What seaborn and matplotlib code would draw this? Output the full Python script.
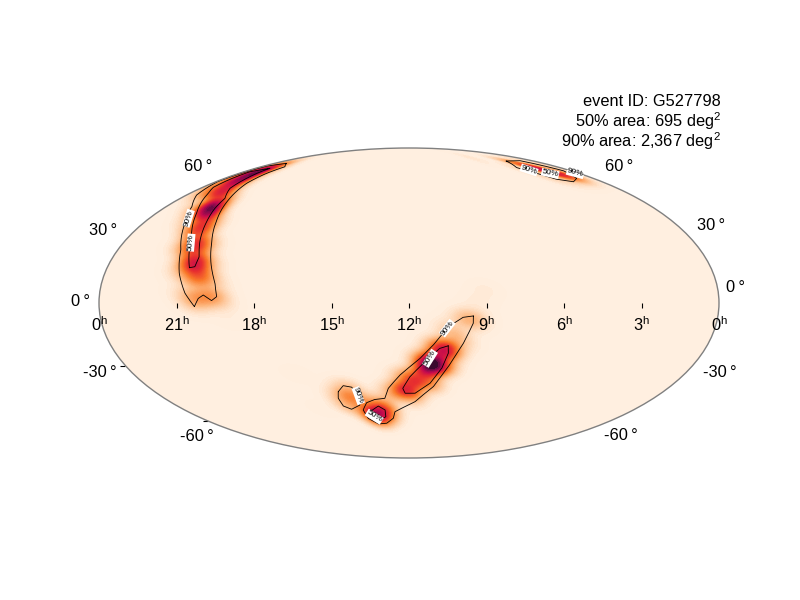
import numpy as np
import matplotlib
matplotlib.use("Agg")
import matplotlib.pyplot as plt
import seaborn as sns

# contours: right ascension in hours, declination in degrees
nw_90_ra = [20.31, 20.69, 21.06, 21.40, 22.11, 22.73, 23.46, 23.90, 23.85, 23.75, 22.93, 22.08, 22.06, 21.89, 21.36, 20.81, 20.28, 19.93, 19.57, 19.45, 19.64, 19.97, 20.16]
nw_90_dec = [-1.7, 4.6, 14.0, 25.3, 38.7, 47.5, 54.0, 61.9, 67.7, 72.4, 74.4, 71.9, 67.3, 60.9, 51.2, 40.4, 28.6, 18.8, 9.3, 3.0, 1.1, 3.8, 2.2]
nw_50_ra = [20.73, 21.05, 21.42, 22.08, 23.00, 23.38, 23.50, 23.58, 22.88, 22.83, 22.58, 22.30, 21.66, 21.49, 21.20, 20.85, 20.51, 20.52]
nw_50_dec = [16.7, 25.3, 33.5, 43.9, 55.0, 58.5, 63.4, 68.4, 70.8, 69.1, 64.1, 57.9, 52.1, 46.6, 39.5, 30.2, 22.0, 17.2]
south_90_ra = [9.50, 9.89, 10.46, 10.96, 11.54, 12.39, 12.96, 13.18, 13.68, 14.14, 14.45, 14.36, 13.90, 13.37, 12.91, 12.76, 11.70, 10.88, 10.33, 9.82, 9.49]
south_90_dec = [-6.1, -6.7, -11.2, -19.1, -26.4, -34.7, -41.6, -46.9, -47.5, -49.3, -53.4, -58.3, -61.7, -61.3, -58.3, -54.4, -48.8, -40.7, -30.5, -19.1, -9.6]
south_50_ra = [10.42, 10.75, 11.26, 11.96, 12.29, 12.19, 11.71, 11.05, 10.60, 10.39]
south_50_dec = [-20.3, -21.5, -27.2, -35.6, -41.6, -44.2, -44.2, -39.0, -31.3, -23.9]
foot_50_ra = [14.12, 13.59, 13.28, 13.31, 13.71, 14.05]
foot_50_dec = [-54.4, -51.2, -53.4, -57.3, -59.3, -57.7]
spot_90_ra = [15.34, 15.01, 14.64, 14.46, 14.52, 15.05, 15.40, 15.47]
spot_90_dec = [-43.4, -40.2, -41.0, -46.0, -50.6, -53.0, -51.2, -46.9]
ne_90_ra = [2.63, 1.16, 0.86, 0.54, 1.07, 1.78, 2.51, 2.97, 3.46]
ne_90_dec = [76.2, 76.5, 73.2, 69.1, 64.1, 61.9, 63.4, 67.3, 71.2]

# probability ridges with a rough relative weight
nw_ra = [20.29, 19.67, 20.34, 20.11, 20.59, 20.85, 21.20, 21.55, 21.78, 22.38, 22.78, 22.91, 23.09, 22.97]
nw_dec = [1.4, 3.8, 10.8, 13.2, 19.4, 27.7, 36.2, 43.5, 47.8, 55.1, 61.7, 66.2, 70.3, 73.2]
nw_wt = [0.3, 0.3, 0.5, 0.5, 0.8, 0.8, 0.9, 1.0, 1.4, 1.0, 1.1, 1.0, 0.7, 0.2]
south_ra = [9.62, 10.18, 10.54, 10.84, 11.03, 11.31, 11.73, 12.19, 12.67, 13.08, 13.58, 13.83]
south_dec = [-8.0, -15.1, -22.3, -26.2, -29.7, -33.2, -38.3, -41.4, -45.1, -50.6, -54.6, -55.7]
south_wt = [0.2, 0.3, 0.6, 0.8, 1.7, 1.1, 0.8, 0.5, 0.3, 0.2, 0.5, 0.5]
spot_ra = [14.87, 14.70, 15.05]
spot_dec = [-46.2, -43.5, -49.0]
spot_wt = [0.5, 0.1, 0.1]
ne_ra = [2.29, 2.07, 1.79, 1.29]
ne_dec = [73.9, 71.0, 68.2, 66.2]
ne_wt = [0.5, 0.9, 0.7, 0.9]
faint_ra = [5.16, 5.08, 16.62, 16.88, 9.05, 9.33, 19.24, 18.97]
faint_dec = [80.4, 77.0, -52.8, -34.2, 6.1, 0.5, -0.9, -8.0]
faint_wt = [0.05, 0.05, 0.03, 0.03, 0.05, 0.05, 0.06, 0.03]

edge_90_wt = 0.13
edge_50_wt = 0.4

colour_stops = ["#FFEFE0", "#FDB77F", "#F97A2A", "#E8302E", "#C60A4E", "#7A0A4B", "#1A0820"]
info_lines = ["event ID: G527798", "50% area: 695 deg$^2$", "90% area: 2,367 deg$^2$"]
ra_ticks = [21, 18, 15, 12, 9, 6, 3]

# text, ra, dec, rotation
contour_labels = [
    ("90%", 22.20, 41.3, 72), ("50%", 21.17, 28.9, 85),
    ("90%", 10.50, -11.9, 52), ("50%", 11.13, -26.4, 58),
    ("50%", 13.98, -57.3, -32), ("90%", 14.45, -45.5, -70),
    ("90%", 2.95, 69.6, -18), ("50%", 2.03, 67.3, -12), ("90%", 0.20, 67.5, -15),
]


def lon(ra):
    return np.radians(180 - np.asarray(ra) * 15)


def lat(dec):
    return np.radians(np.asarray(dec))


def closed(values):
    return list(values) + [values[0]]


sns.set_theme(style="white")
plt.rcParams['font.family'] = ['Liberation Sans', 'DejaVu Sans']
plt.rcParams['mathtext.default'] = 'regular'

fig = plt.figure(figsize=(8, 6), dpi=100)
ax = fig.add_axes([99 / 800, 142 / 600, 620 / 800, 310 / 600], projection='mollweide')
ax.set_facecolor(colour_stops[0])
ax.grid(False)
ax.set_xticklabels([])
ax.set_yticklabels([])
ax.spines['geo'].set_edgecolor('#808080')
ax.spines['geo'].set_linewidth(1)

cmap = sns.blend_palette(colour_stops, as_cmap=True)

edges_90 = [(nw_90_ra, nw_90_dec), (south_90_ra, south_90_dec), (spot_90_ra, spot_90_dec), (ne_90_ra, ne_90_dec)]
edges_50 = [(nw_50_ra, nw_50_dec), (south_50_ra, south_50_dec), (foot_50_ra, foot_50_dec)]

all_ra = nw_ra + south_ra + spot_ra + ne_ra + faint_ra
all_dec = nw_dec + south_dec + spot_dec + ne_dec + faint_dec
all_wt = nw_wt + south_wt + spot_wt + ne_wt + faint_wt
for ra, dec in edges_90:
    all_ra = all_ra + ra
    all_dec = all_dec + dec
    all_wt = all_wt + [edge_90_wt] * len(ra)
for ra, dec in edges_50:
    all_ra = all_ra + ra
    all_dec = all_dec + dec
    all_wt = all_wt + [edge_50_wt] * len(ra)

sns.kdeplot(x=lon(all_ra), y=lat(all_dec), weights=all_wt, fill=True, levels=80, thresh=0.002,
            cmap=cmap, bw_adjust=0.13, gridsize=400, ax=ax)

for ra, dec in edges_90 + edges_50:
    ax.plot(lon(closed(ra)), lat(closed(dec)), color='black', lw=0.6)

for text, ra, dec, rot in contour_labels:
    ax.text(lon(ra), lat(dec), text, fontsize=6, rotation=rot, ha='center', va='center',
            rotation_mode='anchor', clip_on=True, zorder=5, color='black',
            bbox=dict(boxstyle='square,pad=0.05', facecolor='white', edgecolor='none'))

# ra ticks and labels along the equator
ax.plot(lon(ra_ticks), np.zeros(len(ra_ticks)), ls='none', marker=3, ms=3.6, mew=0.8, color='black',
        clip_on=False)
for h in ra_ticks:
    ax.annotate(f"{h}$^{{h}}$", (lon(h), 0), xytext=(0, -12), textcoords='offset pixels',
                ha='center', va='top', fontsize=11.8, color='black', annotation_clip=False)
for edge in [-np.pi, np.pi]:
    ax.annotate("0$^{h}$", (edge, 0), xytext=(0, -12), textcoords='offset pixels',
                ha='center', va='top', fontsize=11.8, color='black', annotation_clip=False, zorder=6)

# dec labels: text, dec, edge side, pixel offset from the edge of the ellipse
dec_labels = [
    ("0\u2009°", 0, -1, -18.5, 2), ("30\u2009°", 30, -1, -22, 10), ("60\u2009°", 60, -1, -10, 18),
    ("-30\u2009°", -30, -1, -25.4, -7), ("-60\u2009°", -60, -1, -12, -15),
    ("0\u2009°", 0, 1, 17, 15.5), ("30\u2009°", 30, 1, 18, 15), ("60\u2009°", 60, 1, 10, 18),
    ("-30\u2009°", -30, 1, 27, -6.5), ("-60\u2009°", -60, 1, 11.5, -14),
]
for text, dec, side, dx, dy in dec_labels:
    ax.annotate(text, (side * np.pi, lat(dec)), xytext=(dx, dy), textcoords='offset pixels',
                ha='center', va='center', fontsize=11.8, color='black', annotation_clip=False)

ax.plot([-np.pi, -np.pi], lat([-30, -60]), ls='none', marker=0, ms=3.6, mew=0.8, color='black', clip_on=False)

ax.set_xlabel('')
ax.set_ylabel('')

for text, base in zip(info_lines, [105.7, 126.7, 147.3]):
    fig.text(721 / 800, 1 - base / 600, text, ha='right', va='baseline', fontsize=11.8, color='black')

fig.savefig('out.png', dpi=100)
